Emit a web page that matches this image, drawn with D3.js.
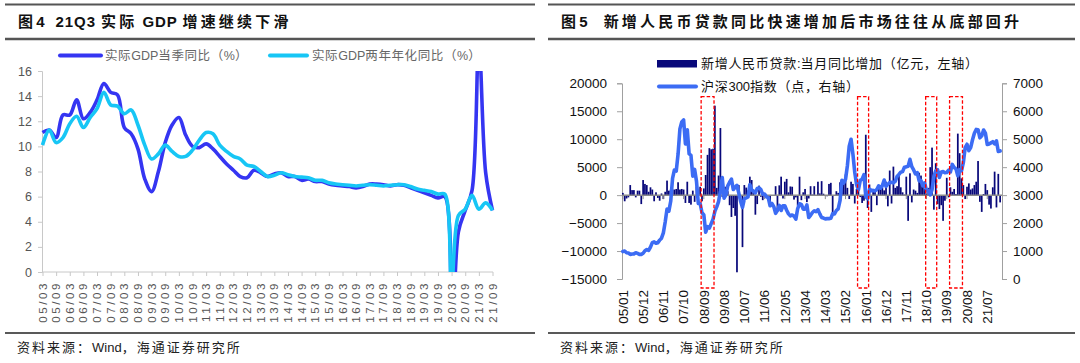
<!DOCTYPE html>
<html><head><meta charset="utf-8">
<script src="https://cdn.jsdelivr.net/npm/d3@7"></script>
<style>
body{margin:0;background:#fff}
svg{display:block}
text{font-family:"Liberation Sans",Arial,"Noto Sans CJK SC",sans-serif;white-space:pre}
</style>
</head><body>
<svg id="c" width="1080" height="363"></svg>
<script>
// ---------------- Left chart data ----------------
const quarters = [
"05/03","05/06","05/09","05/12","06/03","06/06","06/09","06/12","07/03","07/06","07/09","07/12",
"08/03","08/06","08/09","08/12","09/03","09/06","09/09","09/12","10/03","10/06","10/09","10/12",
"11/03","11/06","11/09","11/12","12/03","12/06","12/09","12/12","13/03","13/06","13/09","13/12",
"14/03","14/06","14/09","14/12","15/03","15/06","15/09","15/12","16/03","16/06","16/09","16/12",
"17/03","17/06","17/09","17/12","18/03","18/06","18/09","18/12","19/03","19/06","19/09","19/12",
"20/03","20/06","20/09","20/12","21/03","21/06","21/09"];
const gdpQuarterly = [
11.1,11.3,10.7,12.5,12.5,13.7,12.2,12.7,13.7,15.0,14.3,14.1,
11.5,11.0,9.8,7.4,6.4,8.0,10.3,11.7,12.3,10.9,10.0,9.9,
10.2,9.8,9.2,8.6,8.1,7.6,7.5,8.1,7.9,7.6,7.8,7.9,
7.6,7.6,7.3,7.4,7.2,7.2,7.0,6.9,6.85,6.8,6.7,6.8,
7.0,7.0,6.95,6.85,6.95,6.9,6.7,6.5,6.3,6.1,5.9,6.0,
-6.8,3.2,4.9,6.5,18.3,7.9,4.9];
const gdpTwoYear = [
10.1,11.3,10.3,10.7,11.8,12.4,11.5,12.3,13.0,14.3,13.3,13.2,
12.6,12.9,11.7,10.1,9.0,9.4,10.1,9.6,9.2,9.2,9.7,10.5,
11.1,11.0,10.1,9.6,9.2,9.0,8.5,8.4,8.0,7.6,7.7,7.9,
7.75,7.6,7.55,7.5,7.3,7.3,7.1,7.0,6.95,6.9,6.85,6.9,
6.95,6.9,6.85,6.9,6.95,6.95,6.8,6.6,6.5,6.4,6.2,6.2,
-1.0,4.5,5.0,6.1,5.0,5.5,4.9];
const leftYTicks = [0,2,4,6,8,10,12,14,16];
const leftXTickLabels = ["05/03","05/09","06/03","06/09","07/03","07/09","08/03","08/09","09/03","09/09",
"10/03","10/09","11/03","11/09","12/03","12/09","13/03","13/09","14/03","14/09","15/03","15/09",
"16/03","16/09","17/03","17/09","18/03","18/09","19/03","19/09","20/03","20/09","21/03","21/09"];
const leftSeriesNames = ["实际GDP当季同比（%）","实际GDP两年年化同比（%）"];

// ---------------- Right chart data ----------------
const months = [
"05/01","05/02","05/03","05/04","05/05","05/06","05/07","05/08","05/09","05/10","05/11","05/12",
"06/01","06/02","06/03","06/04","06/05","06/06","06/07","06/08","06/09","06/10","06/11","06/12",
"07/01","07/02","07/03","07/04","07/05","07/06","07/07","07/08","07/09","07/10","07/11","07/12",
"08/01","08/02","08/03","08/04","08/05","08/06","08/07","08/08","08/09","08/10","08/11","08/12",
"09/01","09/02","09/03","09/04","09/05","09/06","09/07","09/08","09/09","09/10","09/11","09/12",
"10/01","10/02","10/03","10/04","10/05","10/06","10/07","10/08","10/09","10/10","10/11","10/12",
"11/01","11/02","11/03","11/04","11/05","11/06","11/07","11/08","11/09","11/10","11/11","11/12",
"12/01","12/02","12/03","12/04","12/05","12/06","12/07","12/08","12/09","12/10","12/11","12/12",
"13/01","13/02","13/03","13/04","13/05","13/06","13/07","13/08","13/09","13/10","13/11","13/12",
"14/01","14/02","14/03","14/04","14/05","14/06","14/07","14/08","14/09","14/10","14/11","14/12",
"15/01","15/02","15/03","15/04","15/05","15/06","15/07","15/08","15/09","15/10","15/11","15/12",
"16/01","16/02","16/03","16/04","16/05","16/06","16/07","16/08","16/09","16/10","16/11","16/12",
"17/01","17/02","17/03","17/04","17/05","17/06","17/07","17/08","17/09","17/10","17/11","17/12",
"18/01","18/02","18/03","18/04","18/05","18/06","18/07","18/08","18/09","18/10","18/11","18/12",
"19/01","19/02","19/03","19/04","19/05","19/06","19/07","19/08","19/09","19/10","19/11","19/12",
"20/01","20/02","20/03","20/04","20/05","20/06","20/07","20/08","20/09","20/10","20/11","20/12",
"21/01","21/02","21/03","21/04","21/05","21/06","21/07","21/08","21/09","21/10","21/11","21/12",
"22/01","22/02"];
const loanYoY = [
400,-1100,-600,-400,1800,900,900,-400,800,800,-1600,2700,
2000,1800,600,1400,1000,-1100,500,-500,-1000,300,-700,600,
2600,800,1000,1000,1000,1100,2300,1000,1100,1000,-1400,2400,
-1400,-1700,800,-1200,1500,-200,1500,-1100,1200,3600,7200,8400,
8200,8300,16000,1300,3500,12000,-300,1400,1500,700,-1800,-3900,
-2300,-3700,-13800,1800,-250,-9300,1800,1350,800,3300,2700,1000,
-3500,-1600,1700,-300,-900,300,-400,0,-1250,0,0,1600,
-3000,1750,3300,-600,2400,2900,500,1550,1500,-800,-400,-1900,
3300,-900,500,1100,-1250,-600,1600,100,1600,0,2400,300,
2500,250,-100,-200,2000,2200,-3100,-100,700,400,2300,2100,
2400,3700,1300,-700,2400,2000,-1500,1100,1900,-350,-1400,-1000,
10800,-2300,1900,-3000,850,1000,-1800,1400,1700,1400,850,2400,
-2000,4400,-1500,5100,1300,1600,3600,1400,500,100,3300,-4600,
3900,-1300,1000,800,400,4000,3500,2200,1100,300,1300,5000,
8500,-2600,5700,-1600,-2500,-1800,-4600,-1000,3100,-400,1400,600,
1100,200,11000,7500,3000,1800,-700,1500,2100,1000,1200,1800,
2400,6100,-1200,-3000,200,2000,900,-1700,-2400,1400,4200,-2200,
3800,-1300];
const hs300 = [
982,1000,940,930,880,895,900,940,915,880,880,920,
1010,1050,1020,1140,1300,1330,1280,1300,1390,1460,1650,2040,
2500,2430,2780,3600,3900,3860,4470,5370,5620,5690,4830,5340,
4480,4420,3680,3920,3500,2700,2700,2370,2290,1670,1870,1820,
1980,2140,2420,2580,2770,3150,3630,2890,3010,3330,3460,3575,
3200,3280,3350,3070,2770,2560,2870,2900,2935,3380,3190,3130,
3080,3240,3260,3200,3030,3040,2940,2910,2620,2700,2590,2350,
2460,2630,2450,2620,2620,2460,2330,2260,2290,2250,2140,2520,
2690,2670,2500,2500,2650,2200,2280,2380,2440,2410,2480,2330,
2200,2180,2150,2160,2160,2170,2340,2330,2450,2510,2800,3530,
3430,3570,4050,4750,5000,4470,3820,3370,3200,3530,3570,3730,
2950,2880,3220,3160,3170,3150,3200,3330,3250,3340,3540,3310,
3390,3450,3460,3440,3490,3670,3740,3820,3840,4000,4010,4030,
4280,4020,3900,3760,3800,3510,3520,3330,3440,3150,3170,3010,
3200,3670,3870,3910,3630,3830,3840,3800,3810,3890,3830,4100,
3990,3940,3690,3910,3870,4160,4700,4820,4590,4700,4980,5210,
5350,5340,5050,5120,5330,5220,4810,4830,4870,4910,4830,4940,
4560,4580];
const rightLeftTicks = [-15000,-10000,-5000,0,5000,10000,15000,20000];
const rightRightTicks = [0,1000,2000,3000,4000,5000,6000,7000];
const rightXTickLabels = ["05/01","05/12","06/11","07/10","08/09","09/08","10/07","11/06","12/05","13/04",
"14/03","15/02","16/01","16/12","17/11","18/10","19/09","20/08","21/07"];
const highlightStart = ["08/08","15/09","18/10","19/11"];
const highlightEnd   = ["09/02","16/02","19/03","20/05"];
const rightSeriesNames = ["新增人民币贷款:当月同比增加（亿元，左轴）","沪深300指数（点，右轴）"];

const titles = ["图4  21Q3 实际 GDP 增速继续下滑","图5   新增人民币贷款同比快速增加后市场往往从底部回升"];
const sourceText = "资料来源：Wind，海通证券研究所";

// ---------------- helpers ----------------
const CJK = /[\u2E80-\u9FFF\uF900-\uFAFF\uFF00-\uFFEF\u3000-\u303F]/;
function richText(sel, str, cjkSpacing, latinSpacing){
  const runs = str.match(/[\u2E80-\u9FFF\uF900-\uFAFF\uFF00-\uFFEF\u3000-\u303F]+|[^\u2E80-\u9FFF\uF900-\uFAFF\uFF00-\uFFEF\u3000-\u303F]+/g);
  runs.forEach(r=>{
    const isC = CJK.test(r);
    sel.append("tspan").text(r)
      .attr("letter-spacing", isC ? cjkSpacing : latinSpacing)
      .style("font-family", isC ? "'Noto Sans CJK SC',sans-serif" : "'Liberation Sans',Arial,sans-serif");
  });
  return sel;
}

// ---------------- Drawing ----------------
const svg = d3.select("#c");
const C_BLUE = "#3535f2", C_CYAN = "#17c6f5", C_NAVY = "#08087a", C_LINE = "#3c6cf4";

[[5,535],[548,1075]].forEach(([x0,x1],k)=>{
  svg.append("line").attr("x1",x0).attr("x2",x1).attr("y1",4.5).attr("y2",4.5).attr("stroke","#555").attr("stroke-width",2);
  svg.append("line").attr("x1",x0).attr("x2",x1).attr("y1",39).attr("y2",39).attr("stroke","#555").attr("stroke-width",2.5);
  svg.append("line").attr("x1",x0).attr("x2",x1).attr("y1",333).attr("y2",333).attr("stroke","#222").attr("stroke-width",1.3);
  richText(svg.append("text").attr("x",x0+13).attr("y",27).attr("font-size",15).attr("font-weight","bold")
    .attr("fill","#111"), titles[k], 3.2, 0.9);
  richText(svg.append("text").attr("x",x0+12).attr("y",352).attr("font-size",13).attr("fill","#222"),
    sourceText, 2, 0);
});

// ---------- Left chart ----------
const L = {x0:42.5, x1:492.5, yTop:71, yBot:272};
const xL = d3.scalePoint().domain(quarters).range([L.x0, L.x1]);
const yL = d3.scaleLinear().domain([0,16]).range([L.yBot, L.yTop]);
const gL = svg.append("g");

const yAxL = gL.append("g").attr("transform",`translate(${L.x0-0.5},0)`)
  .call(d3.axisLeft(yL).tickValues(leftYTicks).tickSize(4).tickPadding(6));
yAxL.select(".domain").attr("stroke","#c8c8c8");
yAxL.selectAll(".tick line").attr("stroke","#c8c8c8");
yAxL.selectAll(".tick text").attr("font-size",12.5).attr("fill","#555");

const xAxL = gL.append("g").attr("transform",`translate(0,${L.yBot})`)
  .call(d3.axisBottom(xL).tickValues(leftXTickLabels).tickSize(4).tickFormat(""));
xAxL.select(".domain").attr("stroke","#c8c8c8").attr("d",`M${L.x0-0.5},0H${L.x1+0.5}`);
xAxL.selectAll(".tick line").attr("stroke","#c8c8c8");
gL.selectAll(".xlabL").data(leftXTickLabels).join("text")
  .attr("transform",d=>`translate(${xL(d)},281) rotate(-90)`)
  .attr("text-anchor","end").attr("dy","0.35em").attr("font-size",11.5).attr("letter-spacing",2.6)
  .attr("fill","#555").text(d=>d);

svg.append("clipPath").attr("id","clipL").append("rect")
  .attr("x",L.x0-5).attr("y",L.yTop).attr("width",L.x1-L.x0+12).attr("height",L.yBot-L.yTop);
const lineL = d3.line().x((d,i)=>xL(quarters[i])).y(d=>yL(d)).curve(d3.curveCatmullRom.alpha(0.5));
gL.append("path").attr("clip-path","url(#clipL)").datum(gdpQuarterly).attr("d",lineL)
  .attr("fill","none").attr("stroke",C_BLUE).attr("stroke-width",3.6).attr("stroke-linejoin","round");
gL.append("path").attr("clip-path","url(#clipL)").datum(gdpTwoYear).attr("d",lineL)
  .attr("fill","none").attr("stroke",C_CYAN).attr("stroke-width",3.6).attr("stroke-linejoin","round");

[[60,101,105,C_BLUE],[270,307,312,C_CYAN]].forEach(([a,b,t,c],k)=>{
  gL.append("line").attr("x1",a).attr("x2",b).attr("y1",55.5).attr("y2",55.5).attr("stroke",c).attr("stroke-width",4).attr("stroke-linecap","round");
  richText(gL.append("text").attr("x",t).attr("y",55.5).attr("dy","0.35em").attr("font-size",12.5).attr("fill","#666"),
    leftSeriesNames[k], 0.6, 0);
});

// ---------- Right chart ----------
const R = {x0:622, x1:1001, xAxisR:1002, yTop:83.3, yBot:279};
const xR = d3.scaleBand().domain(months).range([R.x0, R.x1]).paddingInner(0.06);
const xc = d => xR(d) + xR.bandwidth()/2;
const yRL = d3.scaleLinear().domain([-15000,20000]).range([R.yBot, R.yTop]);
const yRR = d3.scaleLinear().domain([0,7000]).range([R.yBot, R.yTop]);
const gR = svg.append("g");

const axLeft = gR.append("g").attr("transform",`translate(${R.x0},0)`)
  .call(d3.axisLeft(yRL).tickValues(rightLeftTicks).tickSize(5).tickPadding(10).tickFormat(d3.format("d")));
axLeft.select(".domain").attr("stroke","#a0a0a0");
axLeft.selectAll(".tick line").attr("stroke","#a0a0a0");
axLeft.selectAll(".tick text").attr("font-size",13.5).attr("fill","#111");
const axRight = gR.append("g").attr("transform",`translate(${R.xAxisR},0)`)
  .call(d3.axisRight(yRR).tickValues(rightRightTicks).tickSize(5).tickPadding(6).tickFormat(d3.format("d")));
axRight.select(".domain").attr("stroke","#a0a0a0");
axRight.selectAll(".tick line").attr("stroke","#a0a0a0");
axRight.selectAll(".tick text").attr("font-size",13.5).attr("fill","#111");

gR.selectAll(".bar").data(loanYoY).join("rect")
  .attr("x",(d,i)=>xR(months[i])).attr("width",xR.bandwidth())
  .attr("y",d=>yRL(Math.max(0,d))).attr("height",d=>Math.abs(yRL(d)-yRL(0)))
  .attr("fill",C_NAVY);

const zeroAx = gR.append("g").attr("transform",`translate(0,${yRL(0)})`)
  .call(d3.axisBottom(xR).tickValues(rightXTickLabels).tickSize(4).tickFormat(""));
zeroAx.select(".domain").attr("stroke","#8a8a8a").attr("stroke-width",1.5).attr("d",`M${R.x0},0H${R.xAxisR}`);
zeroAx.selectAll(".tick line").attr("stroke","#8a8a8a");

const lineR = d3.line().x((d,i)=>xc(months[i])).y(d=>yRR(d)).curve(d3.curveLinear);
gR.append("path").datum(hs300).attr("d",lineR).attr("fill","none").attr("stroke",C_LINE)
  .attr("stroke-width",3.6).attr("stroke-linejoin","round").attr("stroke-linecap","round");

highlightStart.forEach((s,k)=>{
  const x0 = xR(s), x1 = xR(highlightEnd[k]) + xR.step();
  gR.append("rect").attr("x",x0).attr("width",x1-x0).attr("y",yRL(17600)).attr("height",288-yRL(17600))
    .attr("fill","none").attr("stroke","#f00").attr("stroke-width",1.3).attr("stroke-dasharray","3.5,2");
});

gR.selectAll(".xlabR").data(rightXTickLabels).join("text")
  .attr("transform",d=>`translate(${xc(d)},290) rotate(-90)`)
  .attr("text-anchor","end").attr("dy","0.35em").attr("font-size",13.5).attr("fill","#111").text(d=>d);

gR.append("rect").attr("x",657).attr("y",60).attr("width",40).attr("height",7.5).attr("fill",C_NAVY);
richText(gR.append("text").attr("x",701).attr("y",63.5).attr("dy","0.35em").attr("font-size",13).attr("fill","#111"),
  rightSeriesNames[0], 0.7, 0);
gR.append("line").attr("x1",659).attr("x2",696).attr("y1",86.5).attr("y2",86.5).attr("stroke",C_LINE).attr("stroke-width",4).attr("stroke-linecap","round");
richText(gR.append("text").attr("x",701).attr("y",86.5).attr("dy","0.35em").attr("font-size",13).attr("fill","#111"),
  rightSeriesNames[1], 0.7, 0);
</script>
</body></html>
